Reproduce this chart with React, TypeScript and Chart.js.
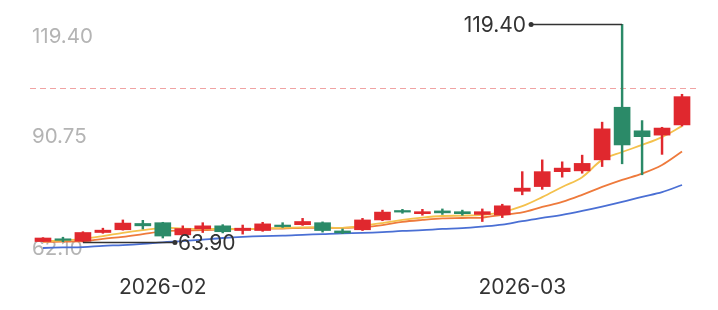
import React, { useEffect, useRef } from 'react';
import { Chart, registerables } from 'chart.js';

Chart.register(...registerables);

const dates = [
  '2026-01-23', '2026-01-26', '2026-01-27', '2026-01-28', '2026-01-29', '2026-01-30',
  '2026-02-03', '2026-02-04', '2026-02-05', '2026-02-06', '2026-02-09', '2026-02-10',
  '2026-02-11', '2026-02-12', '2026-02-13', '2026-02-17', '2026-02-18', '2026-02-19',
  '2026-02-20', '2026-02-23', '2026-02-24', '2026-02-25', '2026-02-26', '2026-02-27',
  '2026-03-02', '2026-03-03', '2026-03-04', '2026-03-05', '2026-03-06', '2026-03-09',
  '2026-03-10', '2026-03-11', '2026-03-12',
];

const openPrices = [64.0, 64.7, 64.1, 66.3, 67.0, 68.6, 68.8, 65.7, 67.2, 68.0, 66.8, 66.8, 68.2, 68.3, 68.8, 66.7, 67.0, 69.5, 71.9, 71.1, 71.8, 71.6, 70.9, 70.8, 76.8, 78.0, 81.8, 82.0, 84.8, 98.2, 92.2, 91.1, 93.7];
const closePrices = [64.9, 64.3, 66.3, 66.9, 68.7, 68.0, 65.4, 67.3, 68.0, 66.5, 67.4, 68.5, 67.8, 69.1, 66.8, 66.2, 69.5, 71.5, 71.5, 71.6, 71.3, 71.1, 71.6, 73.1, 77.6, 81.8, 82.7, 83.9, 92.7, 88.6, 90.7, 92.9, 100.9];
const highPrices = [65.0, 65.1, 66.5, 67.4, 69.5, 69.4, 68.9, 68.0, 68.8, 68.3, 68.2, 68.9, 68.8, 69.9, 69.0, 67.2, 69.9, 72.0, 72.2, 72.2, 72.3, 72.0, 72.3, 73.5, 81.8, 84.8, 84.3, 86.0, 94.4, 119.4, 94.8, 93.1, 101.5];
const lowPrices = [64.0, 63.95, 63.9, 66.1, 66.9, 67.2, 64.9, 65.5, 66.3, 66.2, 65.9, 66.6, 67.6, 68.1, 66.4, 66.0, 66.8, 69.3, 71.2, 70.7, 70.9, 70.7, 69.1, 70.1, 75.9, 77.3, 80.4, 81.4, 83.1, 83.8, 81.0, 86.2, 93.4];

const ma5 = [64.0, 64.3, 64.7, 65.4, 66.2, 66.9, 67.5, 67.3, 67.2, 67.2, 67.2, 67.3, 67.5, 67.6, 67.6, 67.5, 68.0, 68.7, 69.5, 70.1, 70.5, 70.6, 70.8, 71.5, 73.0, 75.3, 77.9, 80.4, 84.8, 86.8, 88.6, 90.6, 93.4];
const ma10 = [63.9, 64.0, 64.1, 64.7, 65.2, 65.9, 66.6, 66.8, 66.9, 67.1, 67.2, 67.3, 67.3, 67.5, 67.5, 67.5, 67.7, 68.2, 69.0, 69.5, 69.9, 70.0, 70.1, 70.8, 71.4, 72.8, 74.1, 75.9, 77.9, 79.7, 81.3, 83.5, 86.9];
const ma20 = [62.35, 62.5, 62.6, 62.9, 63.1, 63.4, 63.8, 64.1, 64.5, 64.9, 65.2, 65.4, 65.5, 65.7, 65.9, 66.1, 66.2, 66.4, 66.7, 66.9, 67.2, 67.4, 67.8, 68.3, 69.2, 70.0, 70.8, 71.8, 72.9, 74.1, 75.4, 76.6, 78.4];

const yLabels = [119.4, 90.75, 62.1];
const refPrice = 103.0;

const RED = '#e0282e';
const GREEN = '#2b8a68';
const FONT = 'Inter, "Liberation Sans", sans-serif';

const isUp = (i: number) => closePrices[i] >= openPrices[i];
const candleColors = openPrices.map((_, i) => (isUp(i) ? RED : GREEN));

const overlayPlugin = {
  id: 'overlay',
  beforeDatasetsDraw(chart: any) {
    const { ctx, chartArea, scales } = chart;
    const y = scales.y;
    ctx.save();
    const ry = Math.round(y.getPixelForValue(refPrice)) + 0.5;
    ctx.strokeStyle = '#f0a3a3';
    ctx.lineWidth = 1.2;
    ctx.setLineDash([6, 4]);
    ctx.beginPath();
    ctx.moveTo(chartArea.left - 3, ry);
    ctx.lineTo(chartArea.right + 8, ry);
    ctx.stroke();
    ctx.setLineDash([]);
    ctx.fillStyle = '#b4b4b4';
    ctx.font = `20.5px ${FONT}`;
    ctx.textAlign = 'left';
    yLabels.forEach((v, i) => {
      const py = y.getPixelForValue(v);
      if (i === 0) {
        ctx.textBaseline = 'top';
        ctx.fillText(v.toFixed(2), chartArea.left - 1, py + 3);
      } else {
        ctx.textBaseline = 'middle';
        ctx.fillText(v.toFixed(2), chartArea.left - 1, py);
      }
    });
    ctx.restore();
  },
  afterDatasetsDraw(chart: any) {
    const { ctx, chartArea, scales } = chart;
    const x = scales.x;
    const y = scales.y;
    ctx.save();
    ctx.fillStyle = '#333333';
    ctx.font = `21px ${FONT}`;
    ctx.textAlign = 'center';
    ctx.textBaseline = 'middle';
    dates.forEach((d, i) => {
      if (i > 0 && d.slice(0, 7) !== dates[i - 1].slice(0, 7)) {
        ctx.fillText(d.slice(0, 7), x.getPixelForValue(i), chartArea.bottom + 39);
      }
    });
    let maxI = 0;
    let minI = 0;
    highPrices.forEach((v, i) => { if (v > highPrices[maxI]) maxI = i; });
    lowPrices.forEach((v, i) => { if (v < lowPrices[minI]) minI = i; });
    const mark = (i: number, v: number) => {
      const px = x.getPixelForValue(i);
      const py = Math.round(y.getPixelForValue(v)) + 0.5;
      const toLeft = px > (chartArea.left + chartArea.right) / 2;
      const ex = toLeft ? px - 91 : px + 92;
      ctx.strokeStyle = '#333333';
      ctx.lineWidth = 1.5;
      ctx.beginPath();
      ctx.moveTo(px, py);
      ctx.lineTo(ex, py);
      ctx.stroke();
      ctx.fillStyle = '#333333';
      ctx.beginPath();
      ctx.arc(ex, py, 2.5, 0, Math.PI * 2);
      ctx.fill();
      ctx.font = `21px ${FONT}`;
      ctx.textBaseline = 'middle';
      ctx.textAlign = toLeft ? 'right' : 'left';
      ctx.fillText(v.toFixed(2), toLeft ? ex - 5 : ex + 3, py + 1);
    };
    mark(maxI, highPrices[maxI]);
    mark(minI, lowPrices[minI]);
    ctx.restore();
  },
};

export default function App() {
  const canvasRef = useRef<HTMLCanvasElement | null>(null);

  useEffect(() => {
    if (!canvasRef.current) return;
    const lineDs = (data: number[], color: string) => ({
      type: 'line' as const,
      data,
      borderColor: color,
      borderWidth: 1.8,
      pointRadius: 0,
      tension: 0.35,
      fill: false,
      order: 3,
    });
    const chart = new Chart(canvasRef.current, {
      type: 'bar',
      data: {
        labels: dates,
        datasets: [
          {
            type: 'bar',
            data: openPrices.map((o, i) => [o, closePrices[i]]) as any,
            backgroundColor: candleColors,
            borderWidth: 0,
            barThickness: 16,
            grouped: false,
            order: 1,
          } as any,
          {
            type: 'bar',
            data: lowPrices.map((l, i) => [l, highPrices[i]]) as any,
            backgroundColor: candleColors,
            borderWidth: 0,
            barThickness: 1.8,
            grouped: false,
            order: 2,
          } as any,
          lineDs(ma5, '#f4c14c'),
          lineDs(ma10, '#ee7a3c'),
          lineDs(ma20, '#4a6fd4'),
        ],
      },
      options: {
        animation: false,
        responsive: true,
        maintainAspectRatio: false,
        layout: { padding: { left: 25, right: 18, top: 16, bottom: 53 } },
        plugins: { legend: { display: false }, tooltip: { enabled: false } },
        scales: {
          x: { display: false, offset: true, grid: { display: false } },
          y: { display: false, min: 62.1, max: 119.4 },
        },
      },
      plugins: [overlayPlugin],
    });
    return () => chart.destroy();
  }, []);

  return (
    <div style={{ width: 702, height: 294, position: 'relative' }}>
      <canvas ref={canvasRef} />
    </div>
  );
}
